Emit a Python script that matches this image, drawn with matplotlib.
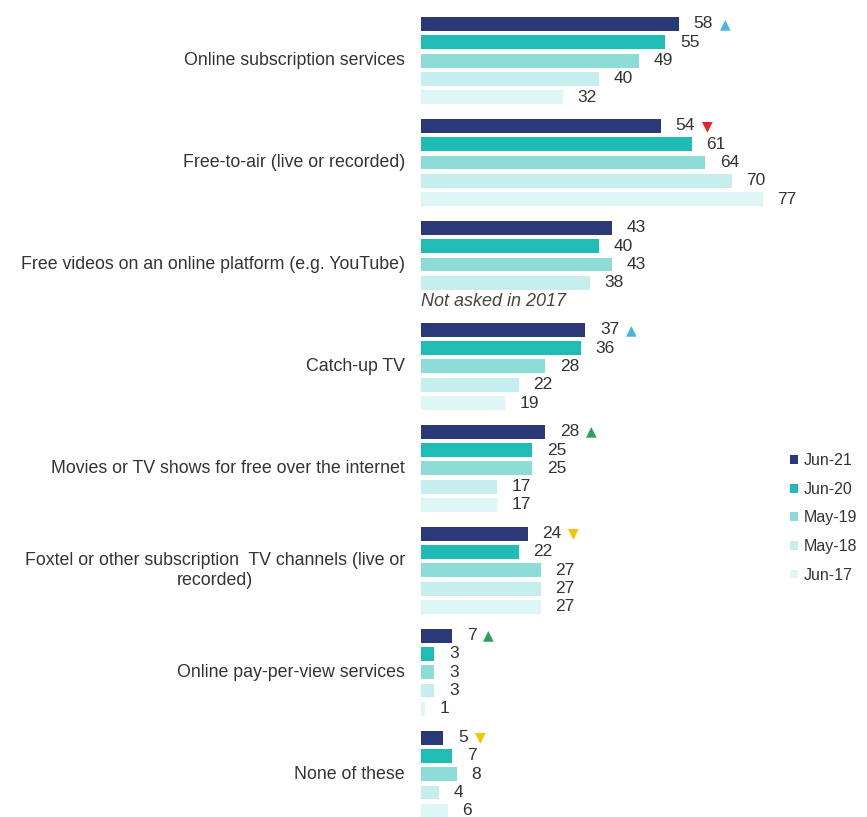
import numpy as np
import matplotlib
matplotlib.use("Agg")
import matplotlib.pyplot as plt
from matplotlib.patches import Patch

plt.rcParams["font.family"] = ["Liberation Sans", "DejaVu Sans"]

categories = [
    "Online subscription services",
    "Free-to-air (live or recorded)",
    "Free videos on an online platform (e.g. YouTube)",
    "Catch-up TV",
    "Movies or TV shows for free over the internet",
    "Foxtel or other subscription  TV channels (live or\nrecorded)",
    "Online pay-per-view services",
    "None of these",
]
series = ["Jun-21", "Jun-20", "May-19", "May-18", "Jun-17"]
jun21 = [58, 54, 43, 37, 28, 24, 7, 5]
jun20 = [55, 61, 40, 36, 25, 22, 3, 7]
may19 = [49, 64, 43, 28, 25, 27, 3, 8]
may18 = [40, 70, 38, 22, 17, 27, 3, 4]
jun17 = [32, 77, None, 19, 17, 27, 1, 6]
# significant change in the latest wave: 'up', 'down' or None
change = ["up", "down", None, "up", "up", "down", "up", "down"]
change_color = ["#43b8d8", "#e0262c", None, "#43b8d8", "#27a35a", "#f5c400", "#27a35a", "#f5c400"]

colors = ["#2c3978", "#1fbdb6", "#8edcd8", "#c6eeee", "#dff6f7"]
values = [jun21, jun20, may19, may18, jun17]

group_pitch = 5.57
bar_h = 0.76

fig = plt.figure(figsize=(8.67, 8.17), dpi=100)
ax = fig.add_axes([0.4856, 0.0, 0.42, 1.0])
ax.set_xlim(0, 82)
ax.set_ylim(43.33, -1.31)
ax.axis("off")

for g, cat in enumerate(categories):
    base = g * group_pitch
    for s in range(len(series)):
        v = values[s][g]
        y = base + s
        if v is None:
            ax.text(0, y, "Not asked in 2017", style="italic", fontsize=13,
                    color="#444444", va="center", ha="left")
            continue
        ax.barh(y, v, height=bar_h, color=colors[s])
        lbl = ax.text(v + 3.3, y, str(v), fontsize=12.5, color="#333333",
                      va="center", ha="left")
        if s == 0 and change[g] is not None:
            mark = "\u25B2" if change[g] == "up" else "\u25BC"
            ax.annotate(mark, xy=(1, 0.5), xycoords=lbl, xytext=(5, 0),
                        textcoords="offset points", va="center", ha="left",
                        fontsize=10, color=change_color[g], family="DejaVu Sans")
    ax.text(-3.6, base + 2, cat, fontsize=12.8, color="#333333", va="center",
            ha="right", multialignment="center")

handles = [Patch(facecolor=c, edgecolor="none") for c in colors]
fig.legend(handles, series, loc="center left", bbox_to_anchor=(0.895, 0.366),
           frameon=False, fontsize=11.5, handlelength=0.45, handleheight=0.45,
           handletextpad=0.4, labelspacing=0.85, labelcolor="#333333")

fig.savefig("out.png", dpi=100, facecolor="white")
